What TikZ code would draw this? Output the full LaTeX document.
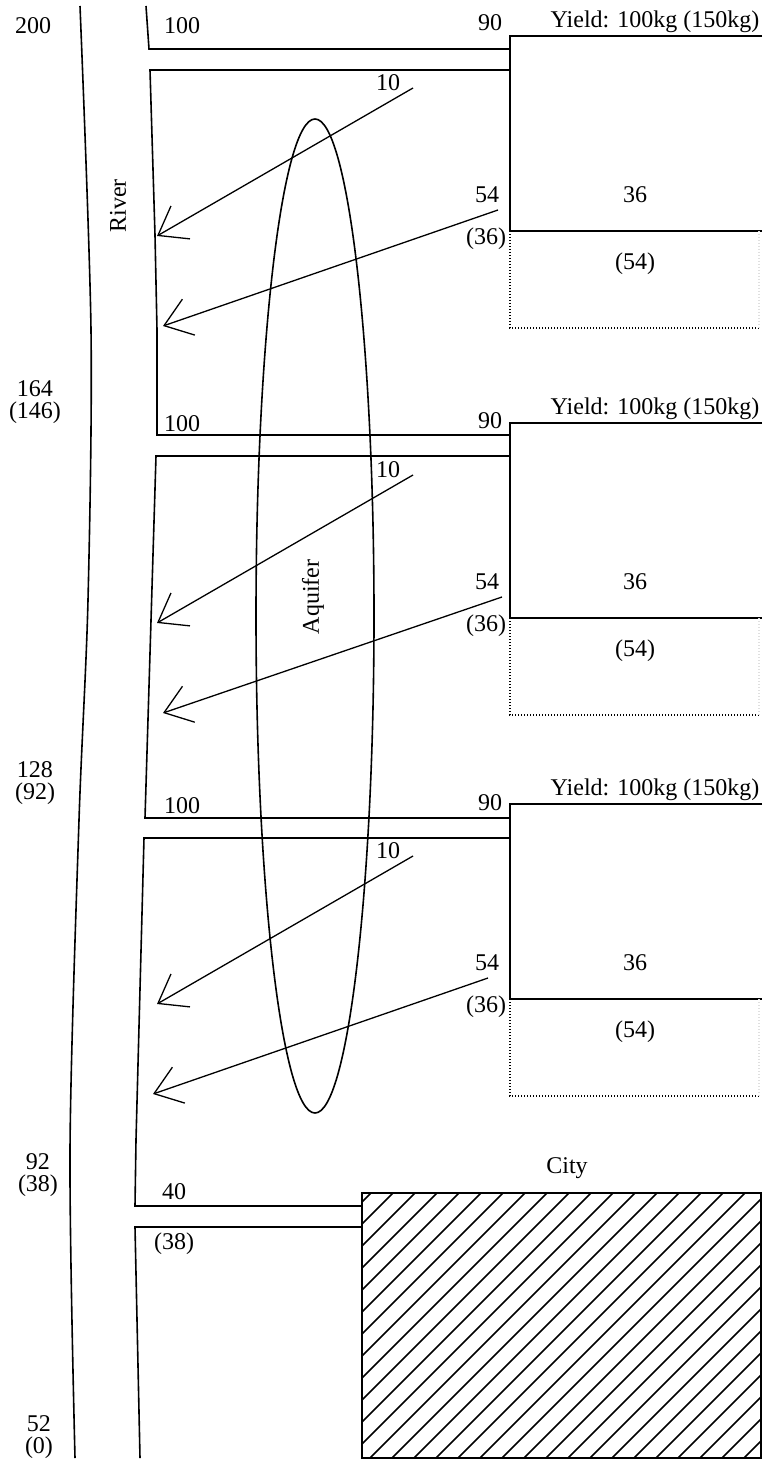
\documentclass[tikz,border=0pt]{standalone}
\usepackage{fontspec}
\setmainfont{Liberation Serif}
\usetikzlibrary{arrows.meta,positioning}

\begin{document}
\begin{tikzpicture}[x=0.5pt,y=-0.5pt,
  lbl/.style={font=\fontsize{12}{11}\selectfont,inner sep=0pt,align=center},
  bank/.style={line width=0.8pt},
  field/.style={line width=1pt},
  fallow/.style={line width=0.8pt,dash pattern=on 0.5pt off 1pt},
  seep/.style={-{Straight Barb[length=13pt,width=19pt]},line width=0.65pt},
  hatch/.style={line width=0.8pt}]
  \useasboundingbox (0,0) rectangle (762,1460);
  % river banks
  \draw[bank] plot[smooth] coordinates {(80,6) (91,330) (88,600) (79,820) (70,1150) (75,1458)};
  \draw[bank] (146,6) -- (149,49) -- (510,49);
  \draw[bank] (510,70) -- (150,70) -- (155,235) -- (157,330) -- (157,435) -- (510,435);
  \draw[bank] (510,456) -- (156,456) -- (145,818) -- (510,818);
  \draw[bank] (510,838) -- (144,838) -- (136,1140) -- (135,1206) -- (362,1206);
  \draw[bank] (362,1227) -- (135,1227) -- (140,1458);
  \node[lbl,rotate=90] (river) at (118,206) {River};
  % flows along the river
  \node[lbl] (q0) at (33,26) {200};
  \node[lbl] (q1) at (35,402) {164\\(146)};
  \node[lbl] (q2) at (35,783) {128\\(92)};
  \node[lbl] (q3) at (38,1175) {92\\(38)};
  \node[lbl] (q4) at (39,1437) {52\\(0)};
  % aquifer
  \draw[bank] (315,616) ellipse [x radius=59, y radius=497];
  \node[lbl,rotate=90] (aquifer) at (313,597) {Aquifer};
  % fields
  \foreach \n/\t/\u/\xa/\xb/\xs in {1/36/23/157/163/498, 2/423/421/157/163/502, 3/804/803/157/153/488} {
    \draw[field] (762,\t) -- (510,\t) -- (510,{\t+195}) -- (762,{\t+195});
    \draw[fallow] (510,{\t+195}) -- (510,{\t+292}) -- (761,{\t+292});
    \draw[fallow,gray!25] (759,{\t+195}) -- (759,{\t+292});
    \node[lbl] (yield\n) at (655,{\t-14}) {Yield: 100kg (150kg)};
    \node[lbl] (in\n) at (490,\u) {90};
    \node[lbl] (div\n) at (182,{\u+3}) {100};
    \node[lbl] (wet\n) at (635,{\t+159}) {36};
    \node[lbl] (dry\n) at (635,{\t+228}) {(54)};
    \node[lbl] (out\n) at (487,{\t+159}) {54};
    \node[lbl] (outdry\n) at (486,{\t+203}) {(36)};
    \node[lbl] (loss\n) at (388,{\t+47}) {10};
    % seepage back to the river
    \coordinate (sa\n) at (413,{\t+52});
    \coordinate (ra\n) at (\xa,{\t+200});
    \coordinate (sb\n) at (\xs,{\t+174});
    \coordinate (rb\n) at (\xb,{\t+290});
    \draw[seep] (sa\n) -- (ra\n);
    \draw[seep] (sb\n) -- (rb\n);
  }
  % city
  \node[lbl] (city) at (567,1168) {City};
  \node[lbl] (draw) at (174,1192) {40};
  \node[lbl] (drawdry) at (174,1244) {(38)};
  \coordinate (cnw) at (362,1193);
  \coordinate (cse) at (761,1458);
  \begin{scope}
    \clip (cnw) rectangle (cse);
    \foreach \c in {1542,1564,...,2230}
      \draw[hatch] ({\c-1500},1500) -- ({\c-1150},1150);
  \end{scope}
  \draw[field] (cnw) rectangle (cse);
\end{tikzpicture}
\end{document}
